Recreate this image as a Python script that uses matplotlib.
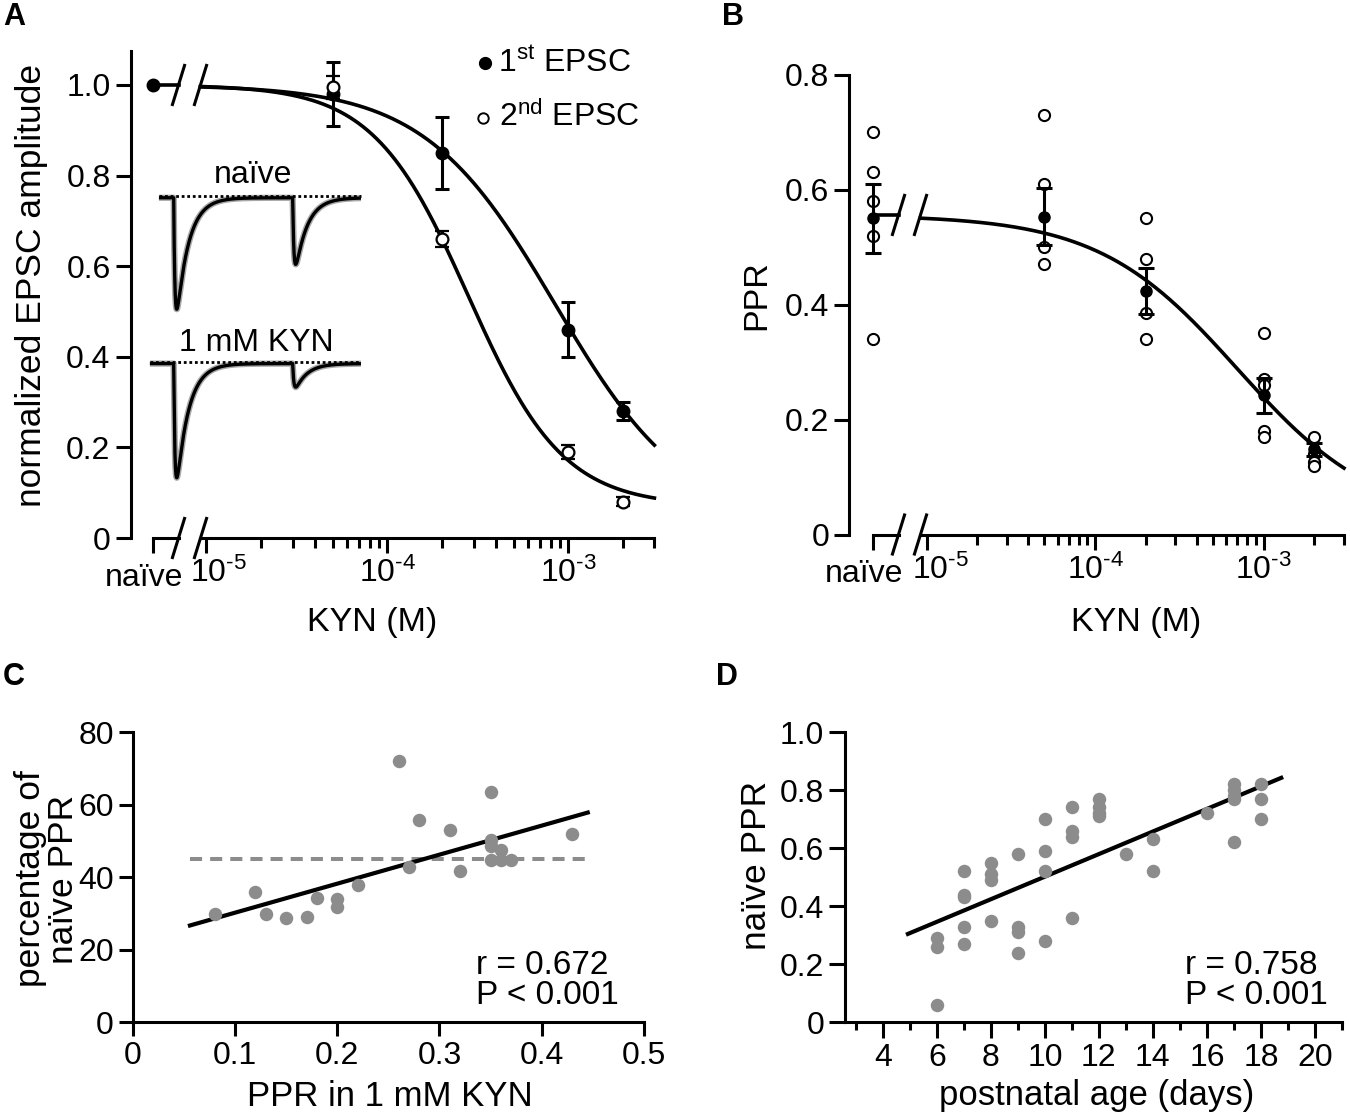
import numpy as np
import matplotlib
matplotlib.use("Agg")
import matplotlib.pyplot as plt
import matplotlib.transforms as mtransforms
from matplotlib.lines import Line2D
from matplotlib.ticker import FixedLocator, NullFormatter

plt.rcParams['font.family'] = ['Liberation Sans', 'DejaVu Sans']
plt.rcParams['mathtext.fontset'] = 'custom'
plt.rcParams['mathtext.rm'] = 'Liberation Sans'
plt.rcParams['mathtext.it'] = 'Liberation Sans:italic'
plt.rcParams['mathtext.bf'] = 'Liberation Sans:bold'
plt.rcParams['mathtext.default'] = 'rm'

W, H = 1350, 1115
TICK_FS = 23
LABEL_FS = 24.5
GREY = '#8c8c8c'
LW = 2.2

# ---- panel A: normalized EPSC amplitude vs KYN ----
kyn_conc = [5e-5, 2e-4, 1e-3, 2e-3]
epsc1_mean = [0.98, 0.85, 0.46, 0.28]
epsc1_sem = [0.07, 0.08, 0.06, 0.02]
epsc2_mean = [0.995, 0.66, 0.19, 0.08]
epsc2_sem = [0.025, 0.018, 0.015, 0.01]
naive_norm = 1.0
# Hill fits: top, bottom, IC50 (M), slope
fit_epsc1 = (1.0, 0.03, 8.5e-4, 1.2)
fit_epsc2 = (1.0, 0.07, 2.8e-4, 1.65)

# example traces (y in the same units as panel A axis)
trace_names = ['naïve', '1 mM KYN']
trace_base = [0.751, 0.385]
trace_amp1 = [0.246, 0.252]
trace_amp2 = [0.147, 0.052]
trace_start = [4.6, 0.8]   # ms
trace_end = 89.5
stim_times = [10.8, 60.8]
tau_rise, tau_decay = 0.5, 5.0

# ---- panel B: PPR vs KYN ----
ppr_naive = [0.70, 0.63, 0.58, 0.52, 0.34]
ppr_50uM = [0.73, 0.61, 0.50, 0.47]
ppr_200uM = [0.55, 0.48, 0.385, 0.34]
ppr_1mM = [0.35, 0.27, 0.26, 0.18, 0.17]
ppr_2mM = [0.17, 0.14, 0.127, 0.12]
ppr_mean_naive, ppr_sem_naive = 0.55, 0.06
ppr_mean = [0.553, 0.424, 0.242, 0.148]
ppr_sem = [0.05, 0.04, 0.03, 0.012]
fit_ppr = (0.556, 0.02, 7e-4, 1.05)

# ---- panel C ----
ppr_kyn = [0.08, 0.12, 0.13, 0.15, 0.17, 0.18, 0.20, 0.20, 0.22, 0.26, 0.27,
           0.28, 0.31, 0.32, 0.35, 0.35, 0.35, 0.35, 0.36, 0.36, 0.37, 0.43]
pct_naive = [29.9, 35.9, 29.9, 28.7, 29.1, 34.3, 34.0, 31.7, 37.9, 72.0, 42.8,
             55.8, 52.9, 41.8, 63.6, 50.1, 48.7, 44.6, 47.4, 44.6, 44.8, 52.0]
c_ref = 45
c_range = [0.056, 0.445]
c_slope, c_icpt = 80.0, 22.2

# ---- panel D ----
age_days = [6, 6, 6, 7, 7, 7, 7, 7, 8, 8, 8, 8, 9, 9, 9, 9, 10, 10, 10, 10,
            11, 11, 11, 11, 12, 12, 12, 12, 13, 14, 14, 16, 17, 17, 17, 17, 17, 18, 18, 18]
naive_ppr = [0.29, 0.26, 0.06, 0.52, 0.44, 0.43, 0.33, 0.27, 0.55, 0.51, 0.49, 0.35,
             0.58, 0.33, 0.31, 0.24, 0.70, 0.59, 0.52, 0.28,
             0.74, 0.66, 0.64, 0.36, 0.77, 0.74, 0.72, 0.71, 0.58, 0.63, 0.52, 0.72,
             0.82, 0.80, 0.78, 0.77, 0.62, 0.82, 0.77, 0.70]
d_range = [4.93, 18.75]
d_slope, d_icpt = 0.0389, 0.1127

DECADE_LABELS = [r'$10^{\text{-}5}$', r'$10^{\text{-}4}$', r'$10^{\text{-}3}$']

fig = plt.figure(figsize=(W / 100, H / 100), dpi=100)


def px_axes(x0, y0, x1, y1):
    return fig.add_axes([x0 / W, 1 - y1 / H, (x1 - x0) / W, (y1 - y0) / H])


def px_text(x, y, s, **kw):
    kw.setdefault('fontsize', LABEL_FS)
    return fig.text(x / W, 1 - y / H, s, **kw)


def px_line(xs, ys, **kw):
    fig.add_artist(Line2D([x / W for x in xs], [1 - y / H for y in ys],
                          transform=fig.transFigure, **kw))


def slashes(xcs, y):
    for xc in xcs:
        px_line([xc - 6.5, xc + 6.5], [y + 21, y - 21], color='k', lw=LW,
                solid_capstyle='butt')


def hill(x, top, bottom, ic50, n):
    return bottom + (top - bottom) / (1 + (x / ic50) ** n)


def style(ax, left=True, major=11, minor=7):
    for s in ['top', 'right']:
        ax.spines[s].set_visible(False)
    ax.spines['left'].set_visible(left)
    for s in ['left', 'bottom']:
        ax.spines[s].set_linewidth(LW)
    ax.tick_params(which='major', direction='out', width=LW, length=major,
                   labelsize=TICK_FS, color='k')
    ax.tick_params(which='minor', direction='out', width=LW, length=minor)
    ax.patch.set_alpha(0)


def shift_xlabel(ax, idx, dx):
    off = mtransforms.ScaledTranslation(dx / 100, 0, fig.dpi_scale_trans)
    lab = ax.get_xticklabels()[idx]
    lab.set_transform(lab.get_transform() + off)


def broken_kyn_axes(x_spine, x_naive, x_brk1, x_brk2, x_end, y_top, y_bot, ylim, yticks):
    # narrow axes holding the naive category + log axes for the KYN series
    ax_n = px_axes(x_spine, y_top, x_brk1, y_bot)
    ax_n.set_xlim(x_spine - x_naive, x_brk1 - x_naive)
    ax_n.set_ylim(*ylim)
    style(ax_n)
    ax_n.spines['bottom'].set_bounds(0, x_brk1 - x_naive)
    ax_n.set_xticks([0], labels=['naïve'])
    ax_n.tick_params(axis='x', pad=7)
    ax_n.set_yticks(yticks, labels=[('0' if v == 0 else f'{v:.1f}') for v in yticks])
    shift_xlabel(ax_n, 0, -9)

    ax_l = px_axes(x_brk2, y_top, x_end, y_bot)
    ax_l.set_xscale('log')
    ax_l.set_ylim(*ylim)
    style(ax_l, left=False)
    ax_l.set_yticks([])
    return ax_n, ax_l


# ================= panel A =================
A_TOP, A_BOT = 51, 538
A_YLIM = (0, 1.075)
ax_an, ax_al = broken_kyn_axes(130.7, 153, 178.5, 200.5, 654.4, A_TOP, A_BOT, A_YLIM,
                               [0, 0.2, 0.4, 0.6, 0.8, 1.0])
ax_al.set_xlim(10 ** -5.033, 3e-3)
ax_al.set_xticks([1e-5, 1e-4, 1e-3], labels=DECADE_LABELS)
minor_a = [k * 10.0 ** e for e in (-5, -4, -3) for k in range(2, 10) if k * 10.0 ** e <= 3.0001e-3]
ax_al.xaxis.set_minor_locator(FixedLocator(minor_a))
ax_al.xaxis.set_minor_formatter(NullFormatter())
shift_xlabel(ax_al, 0, 12)

ax_an.plot([0, 25.5], [naive_norm, naive_norm], color='k', lw=2.6, clip_on=False)
ax_an.plot([0], [naive_norm], 'o', color='k', ms=9, clip_on=False)

xs = np.logspace(-5.033, np.log10(3e-3), 400)
ax_al.plot(xs, hill(xs, *fit_epsc1), color='k', lw=2.6, clip_on=False, zorder=2)
ax_al.plot(xs, hill(xs, *fit_epsc2), color='k', lw=2.6, clip_on=False, zorder=2)
ax_al.errorbar(kyn_conc, epsc1_mean, yerr=epsc1_sem, fmt='o', color='k', ms=9,
               capsize=5, elinewidth=LW, capthick=LW, zorder=4, clip_on=False)
ax_al.errorbar(kyn_conc, epsc2_mean, yerr=epsc2_sem, fmt='o', color='k', mfc='white',
               mec='k', mew=1.6, ms=8.5, capsize=5, elinewidth=LW, capthick=LW,
               zorder=5, clip_on=False)

a_scale = (A_BOT - A_TOP) / A_YLIM[1]
slashes([178.5, 200.5], A_BOT)
slashes([178.5, 200.5], A_BOT - naive_norm * a_scale)

# inset traces
ax_in = px_axes(148, A_TOP, 370, A_BOT)
ax_in.set_xlim(0, 93.3)
ax_in.set_ylim(*A_YLIM)
ax_in.axis('off')
t_peak = np.log(tau_decay / tau_rise) * tau_rise * tau_decay / (tau_decay - tau_rise)
peak = np.exp(-t_peak / tau_decay) - np.exp(-t_peak / tau_rise)
for base, a1, a2, t0 in zip(trace_base, trace_amp1, trace_amp2, trace_start):
    t = np.linspace(t0, trace_end, 2000)
    y = np.full_like(t, base)
    for ts, amp in zip(stim_times, (a1, a2)):
        dt = np.clip(t - ts, 0, None)
        y -= amp * (np.exp(-dt / tau_decay) - np.exp(-dt / tau_rise)) / peak
    ax_in.plot(t, y, color='#a8a8a8', lw=4.5, solid_capstyle='butt')
    ax_in.plot(t, y, color='k', lw=2.4, solid_capstyle='butt')
    ax_in.plot([t0, trace_end], [base + 0.004, base + 0.004], color='k', lw=2,
               ls=(0, (1, 1)))
px_text(253, 175, trace_names[0], ha='center', va='center', fontsize=TICK_FS)
px_text(256, 343, trace_names[1], ha='center', va='center', fontsize=TICK_FS)

# legend
fig.add_artist(Line2D([485 / W], [1 - 63 / H], marker='o', ms=8.5, color='k',
                      transform=fig.transFigure))
fig.add_artist(Line2D([483 / W], [1 - 118 / H], marker='o', ms=7.5, mfc='white', mec='k',
                      mew=1.4, transform=fig.transFigure))
px_text(498, 72, r'1$^{st}$ EPSC', va='baseline', fontsize=TICK_FS)
px_text(499, 126, r'2$^{nd}$ EPSC', va='baseline', fontsize=TICK_FS)

px_text(372, 622, 'KYN (M)', ha='center', va='center')
px_text(32, 285, 'normalized EPSC amplitude', ha='center', va='center', rotation=90,
        fontsize=25.5)
px_text(3, 2, 'A', fontsize=22, fontweight='bold', va='top')

# ================= panel B =================
B_TOP, B_BOT = 74.7, 534.5
B_YLIM = (0, 0.8)
ax_bn, ax_bl = broken_kyn_axes(849.3, 873, 898.5, 920.5, 1344, B_TOP, B_BOT, B_YLIM,
                               [0, 0.2, 0.4, 0.6, 0.8])
ax_bl.set_xlim(10 ** -5.036, 3e-3)
ax_bl.set_xticks([1e-5, 1e-4, 1e-3], labels=DECADE_LABELS)
ax_bl.xaxis.set_minor_locator(FixedLocator(minor_a))
ax_bl.xaxis.set_minor_formatter(NullFormatter())
shift_xlabel(ax_bl, 0, 14)

open_kw = dict(ls='none', marker='o', ms=8, mfc='white', mec='k', mew=1.5,
               clip_on=False, zorder=3)
ax_bn.plot([0] * len(ppr_naive), ppr_naive, **open_kw)
ax_bn.plot([0, 25.5], [fit_ppr[0], fit_ppr[0]], color='k', lw=2.6, clip_on=False)
ax_bn.errorbar([0], [ppr_mean_naive], yerr=[ppr_sem_naive], fmt='o', color='k', ms=8,
               capsize=5.5, elinewidth=LW, capthick=LW, zorder=4, clip_on=False)

for conc, vals in zip(kyn_conc, [ppr_50uM, ppr_200uM, ppr_1mM, ppr_2mM]):
    ax_bl.plot([conc] * len(vals), vals, **open_kw)
xs_b = np.logspace(-5.036, np.log10(3e-3), 400)
ax_bl.plot(xs_b, hill(xs_b, *fit_ppr), color='k', lw=2.6, clip_on=False, zorder=2)
ax_bl.errorbar(kyn_conc, ppr_mean, yerr=ppr_sem, fmt='o', color='k', ms=8,
               capsize=5.5, elinewidth=LW, capthick=LW, zorder=4, clip_on=False)

b_scale = (B_BOT - B_TOP) / B_YLIM[1]
slashes([898.5, 920.5], B_BOT)
slashes([898.5, 920.5], B_BOT - fit_ppr[0] * b_scale)

px_text(1136, 622, 'KYN (M)', ha='center', va='center')
px_text(757, 295, 'PPR', ha='center', va='center', rotation=90)
px_text(722, 2, 'B', fontsize=22, fontweight='bold', va='top')

# ================= panel C =================
ax_c = px_axes(132.7, 732, 644, 1022.3)
ax_c.set_xlim(0, 0.5)
ax_c.set_ylim(0, 80)
style(ax_c, major=10)
cx = [0, 0.1, 0.2, 0.3, 0.4, 0.5]
ax_c.set_xticks(cx, labels=[('0' if v == 0 else f'{v:.1f}') for v in cx])
ax_c.set_yticks([0, 20, 40, 60, 80])
ax_c.plot(c_range, [c_ref, c_ref], color=GREY, lw=2.9, ls=(0, (3, 2)), zorder=2)
xx = np.array(c_range)
ax_c.plot(xx, c_slope * xx + c_icpt, color='k', lw=3, zorder=3)
ax_c.plot(ppr_kyn, pct_naive, 'o', color=GREY, ms=9.7, mec='none', zorder=4, clip_on=False)
px_text(476, 965, 'r = 0.672', va='center', fontsize=24)
px_text(476, 995, 'P < 0.001', va='center', fontsize=24)
px_text(390, 1096, 'PPR in 1 mM KYN', ha='center', va='center', fontsize=25)
px_text(47, 879, 'percentage of\nnaïve PPR', ha='center', va='center', rotation=90,
        multialignment='center', linespacing=1.0, fontsize=25.5)
px_text(3, 662, 'C', fontsize=22, fontweight='bold', va='top')

# ================= panel D =================
ax_d = px_axes(845, 732, 1342, 1022.3)
ax_d.set_xlim(2.6, 21)
ax_d.set_ylim(0, 1)
style(ax_d, major=11.5, minor=6)
ax_d.set_xticks(list(range(4, 21, 2)))
ax_d.xaxis.set_minor_locator(FixedLocator(list(range(3, 22, 2))))
dy = [0, 0.2, 0.4, 0.6, 0.8, 1.0]
ax_d.set_yticks(dy, labels=[('0' if v == 0 else f'{v:.1f}') for v in dy])
xd = np.array(d_range)
ax_d.plot(xd, d_slope * xd + d_icpt, color='k', lw=3, zorder=3)
ax_d.plot(age_days, naive_ppr, 'o', color=GREY, ms=9.7, mec='none', zorder=4, clip_on=False)
px_text(1185, 965, 'r = 0.758', va='center', fontsize=24)
px_text(1185, 995, 'P < 0.001', va='center', fontsize=24)
px_text(1097, 1096, 'postnatal age (days)', ha='center', va='center', fontsize=25)
px_text(757, 865, 'naïve PPR', ha='center', va='center', rotation=90, fontsize=25.5)
px_text(716, 662, 'D', fontsize=22, fontweight='bold', va='top')

fig.savefig('out.png', dpi=100)
